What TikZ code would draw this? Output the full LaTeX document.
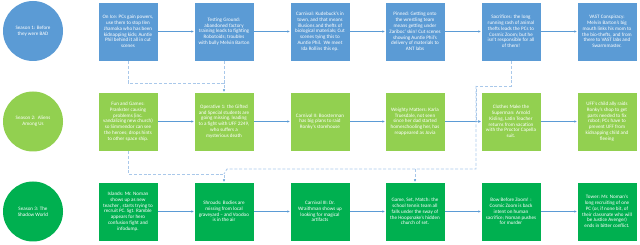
\documentclass[tikz,border=0pt]{standalone}
\usepackage{fontspec}
\setmainfont{Carlito}
\usetikzlibrary{arrows.meta}
\definecolor{sblue}{HTML}{5B9BD5}
\definecolor{lgreen}{HTML}{92D050}
\definecolor{dgreen}{HTML}{00B050}
\definecolor{arrowc}{HTML}{5B9BD5}
\definecolor{dashc}{HTML}{A9C8EA}
\begin{document}
\begin{tikzpicture}[x=1pt,y=-1pt,
 box/.style={draw=white, line width=0.4pt, minimum width=60pt, minimum height=59pt, inner sep=0pt, align=center, text=white, font=\fontsize{5.1}{5.8}\selectfont},
 circ/.style={circle, minimum size=60pt, inner sep=0pt, align=center, text=white, font=\fontsize{5.1}{5.8}\selectfont},
 b1/.style={box, fill=sblue}, b2/.style={box, fill=lgreen}, b3/.style={box, fill=dgreen},
 flow/.style={draw=arrowc, line width=0.5pt, -{Latex[length=2.5pt,width=2.5pt]}},
 dashline/.style={draw=dashc, line width=0.8pt, dash pattern=on 3pt off 1.8pt},
 dtip/.style={-{Latex[length=2.5pt,width=2.5pt,color=sblue]}},
]
\useasboundingbox (0,0) rectangle (640,245);

% Row 1
\node[circ, fill=sblue] (s1) at (33,31) {Season 1: Before\\they were BAD};
\node[b1] (r1c1) at (128,31.5) {On Ice: PCs gain powers,\\use them to stop Ilen\\Jhamoka who has been\\kidnapping kids; Auntie\\Phil behind it all in cut\\scenes};
\node[b1] (r1c2) at (224,31.5) {Testing Ground:\\abandoned factory\\training leads to fighting\\Robotoids; troubles\\with bully Melvin Barton};
\node[b1] (r1c3) at (320,31.5) {Carnival: Kudebuck's in\\town, and that means\\illusions and thefts of\\biological materials; Cut\\scenes tying this to\\Auntie Phil.\ \ We meet\\Ida Rollins this ep.};
\node[b1] (r1c4) at (415,31.5) {Pinned: Getting onto\\the wrestling team\\means getting under\\Zariboc' skin! Cut scenes\\showing Auntie Phil's\\delivery of materials to\\ANT labs};
\node[b1] (r1c5) at (511,31.5) {Sacrifices: the long\\running rash of animal\\thefts leads the PCs to\\Cosmic Zoom; but he\\isn't responsible for all\\of them!};
\node[b1] (r1c6) at (607,31.5) {VAST Conspiracy:\\Melvin Barton's big\\mouth links his mom to\\the bio-thefts, and from\\there to VAST labs and\\Swarmmaster.};

% Row 2
\node[circ, fill=lgreen] (s2) at (33,121.5) {Season 2:\ \ Aliens\\Among Us};
\node[b2] (r2c1) at (128,121.5) {Fun and Games:\\Prankster causing\\problems (inc.\\vandalizing new church)\\so Simmendor can see\\the heroes; drops hints\\to other space ship.};
\node[b2] (r2c2) at (224,121.5) {Operative 1: the Gifted\\and Special students are\\going missing, leading\\to a fight with UFF 2249,\\who suffers a\\mysterious death};
\node[b2] (r2c3) at (320,121.5) {Carnival II: Boosterman\\has big plans to raid\\Ronky's storehouse};
\node[b2] (r2c4) at (415,121.5) {Weighty Matters: Karla\\Truesdale, not seen\\since her dad started\\homeschooling her, has\\reappeared as Jovia};
\node[b2] (r2c5) at (511,121.5) {Clothes Make the\\Superman: Arnold\\Kisling, Latin Teacher\\returns from vacation\\with the Proctor Capella\\suit.};
\node[b2] (r2c6) at (607,121.5) {UFF's child ally raids\\Ronky's shop to get\\parts needed to fix\\robot; PCs have to\\prevent UFF from\\kidnapping child and\\fleeing};

% Row 3
\node[circ, fill=dgreen] (s3) at (33,211.5) {Season 3: The\\Shadow World};
\node[b3] (r3c1) at (128,211.5) {Islands: Mr. Noman\\shows up as new\\teacher , starts trying to\\recruit PC. Sgt. Ramble\\appears for hero\\confusion fight and\\infodump.};
\node[b3] (r3c2) at (224,211.5) {Shrouds: Bodies are\\missing from local\\graveyard -- and Voodoo\\is in the air};
\node[b3] (r3c3) at (320,211.5) {Carnival III: Dr.\\Wraithman shows up\\looking for magical\\artifacts};
\node[b3] (r3c4) at (415,211.5) {Game, Set, Match: the\\school tennis team all\\falls under the sway of\\the Hoopsnake's hidden\\church of set.};
\node[b3] (r3c5) at (511,211.5) {Bow Before Zoom! :\\Cosmic Zoom is back\\intent on human\\sacrifice; Noman pushes\\for murder};
\node[b3] (r3c6) at (607,211.5) {Tower: Mr. Noman's\\long recruiting of one\\PC (or, if none bit, of\\their classmate who will\\be Justice Avenger)\\ends in bitter conflict.};

% solid flow arrows
\foreach \r in {1,2,3}{
  \draw[flow] (r\r c1) -- (r\r c2);
  \draw[flow] (r\r c2) -- (r\r c3);
  \draw[flow] (r\r c3) -- (r\r c4);
  \draw[flow] (r\r c4) -- (r\r c5);
  \draw[flow] (r\r c5) -- (r\r c6);
}

% dashed connectors
\coordinate (k1) at (224,83);
\coordinate (k2) at (476,86);
\coordinate (k3) at (476,169);
\coordinate (k4) at (227,169);
\coordinate (k5) at (224,174);
\draw[dashline] (r1c2.south) -- (k1);
\draw[dashline, dtip] (r1c1.south) |- (k1) -- (r2c2.north);
\draw[dashline, dtip] (r1c5.south) |- (k2) |- (r2c5.west);
\draw[dashline] (k2) -- (k3) -- (k4) -- (k5);
\draw[dashline, dtip] (r3c4.north |- k3) -- (r3c4.north);
\draw[dashline, dtip] (r2c1.south) |- (k5) -- (r3c2.north);
\end{tikzpicture}
\end{document}
